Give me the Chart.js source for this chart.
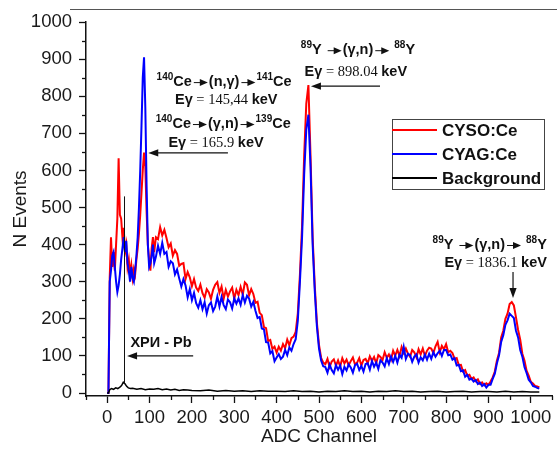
<!DOCTYPE html>
<html>
<head>
<meta charset="utf-8">
<script src="https://cdn.jsdelivr.net/npm/chart.js@4/dist/chart.umd.min.js"></script>
<style>
  html, body { margin: 0; padding: 0; background: #fff; }
  canvas { display: block; }
</style>
</head>
<body>
<canvas id="spectrum" width="557" height="450"></canvas>
<script>
// ============================================================
// DATA
// ============================================================

const channels = [
  0, 3, 6, 9, 12, 15, 18, 21, 24, 27, 30, 33, 36, 39, 42, 45, 48, 51, 54, 57,
  60, 63, 66, 69, 72, 75, 78, 81, 84, 87, 90, 93, 96, 99, 102, 105, 108, 111,
  115, 120, 125, 130, 135, 140, 145, 150, 155, 160,
  165, 170, 175, 180, 185, 190, 195, 200, 205, 210,
  215, 220, 225, 230, 235, 240, 245, 250, 255, 260,
  265, 270, 275, 280, 285, 290, 295, 300, 305, 310,
  315, 320, 325, 330, 335, 340, 345, 350, 355, 360,
  365, 370, 375, 380, 385, 390, 395, 400, 405, 410,
  415, 420, 425, 430, 435, 440, 445, 450, 455, 460,
  465, 470, 475, 480, 485, 490, 495, 500, 505, 510,
  515, 520, 525, 530, 535, 540, 545, 550, 555, 560,
  565, 570, 575, 580, 585, 590, 595, 600, 605, 610,
  615, 620, 625, 630, 635, 640, 645, 650, 655, 660,
  665, 670, 675, 680, 685, 690, 695, 700, 705, 710,
  715, 720, 725, 730, 735, 740, 745, 750, 755, 760,
  765, 770, 775, 780, 785, 790, 795, 800, 805, 810,
  815, 820, 825, 830, 835, 840, 845, 850, 855, 860,
  865, 870, 875, 880, 885, 890, 895, 900, 905, 910,
  915, 920, 925, 930, 935, 940, 945, 950, 955, 960,
  965, 970, 975, 980, 985, 990, 995, 1000, 1005, 1010,
  1015, 1020
];

const cysoCounts = [
  0, 0, 310, 420, 340, 380, 330, 400, 470, 633, 480, 470, 420, 445, 380, 400, 340, 360, 320, 345,
  310, 335, 320, 360, 390, 430, 480, 540, 600, 648, 610, 490, 400, 360, 330, 390, 420, 380,
  420, 415, 447, 425, 440, 418, 393, 403, 370, 385,
  375, 343, 348, 350, 307, 326, 312, 288, 307, 284,
  275, 292, 269, 257, 280, 271, 254, 278, 292, 299,
  270, 287, 254, 278, 260, 274, 284, 254, 278, 264,
  286, 265, 298, 292, 263, 280, 267, 243, 246, 216,
  210, 178, 175, 140, 143, 119, 125, 109, 125, 114,
  132, 121, 144, 129, 148, 152, 165, 215, 320, 450,
  640, 780, 830, 640, 420, 290, 190, 130, 95, 82,
  78, 92, 70, 85, 91, 74, 88, 72, 94, 80,
  90, 75, 86, 96, 77, 82, 94, 74, 89, 92,
  80, 99, 87, 97, 80, 102, 97, 89, 110, 95,
  104, 90, 114, 101, 116, 100, 124, 108, 120, 106,
  98, 116, 110, 96, 118, 104, 120, 100, 114, 122,
  120, 108, 126, 138, 110, 127, 118, 132, 110, 114,
  108, 92, 94, 75, 76, 58, 62, 47, 49, 38,
  42, 32, 37, 25, 29, 21, 26, 22, 31, 42,
  58, 88, 108, 150, 168, 200, 214, 240, 245, 236,
  204, 170, 144, 106, 88, 60, 47, 30, 26, 19,
  18, 15
];

const cyagCounts = [
  0, 0, 300, 330, 370, 380, 340, 300, 272, 290, 320, 360, 390, 420, 380, 410, 350, 330, 300, 340,
  310, 300, 330, 370, 420, 500, 600, 720, 850, 905, 770, 560, 400, 340, 350, 370, 400, 350,
  367, 397, 375, 405, 375, 380, 340, 355, 350, 320,
  333, 309, 287, 307, 290, 258, 280, 250, 270, 242,
  230, 250, 226, 245, 214, 237, 244, 221, 233, 260,
  233, 259, 237, 226, 252, 245, 228, 255, 241, 255,
  238, 264, 244, 262, 254, 233, 246, 222, 202, 205,
  174, 172, 137, 136, 107, 113, 86, 96, 105, 92,
  98, 116, 102, 123, 114, 132, 145, 195, 300, 420,
  590, 710, 750, 610, 400, 275, 180, 120, 88, 72,
  70, 55, 77, 62, 53, 75, 63, 74, 51, 71,
  61, 77, 69, 55, 75, 79, 62, 73, 58, 78,
  80, 63, 86, 71, 82, 65, 88, 82, 72, 94,
  78, 98, 84, 100, 82, 103, 95, 124, 92, 106,
  102, 84, 98, 104, 82, 96, 88, 104, 90, 106,
  92, 110, 98, 107, 114, 100, 116, 116, 102, 104,
  90, 94, 74, 76, 59, 61, 44, 49, 36, 39,
  31, 35, 24, 28, 19, 24, 15, 22, 22, 38,
  52, 80, 102, 138, 156, 184, 196, 214, 208, 202,
  168, 150, 116, 98, 70, 54, 36, 29, 19, 17,
  14, 12
];

const bgChannels = [
  0, 3, 6, 10, 15, 20, 25, 30, 34, 38, 42, 46, 50, 55, 60,
  70, 80, 90, 100, 110, 120, 130, 140, 150, 160, 170, 180, 190, 200,
  220, 240, 260, 280, 300, 320, 340, 360, 380, 400,
  420, 440, 460, 480, 500, 520, 540, 560, 580, 600,
  620, 640, 660, 680, 700, 720, 740, 760, 780, 800,
  820, 840, 860, 880, 900, 920, 940, 960, 980, 1000,
  1020
];

const bgCounts = [
  0, 0, 9, 12, 10, 14, 12, 16, 20, 29, 25, 18, 14, 12, 13,
  10, 12, 9, 11, 10, 12, 9, 11, 8, 10, 7, 9, 8, 7,
  6, 8, 5, 7, 5, 6, 4, 6, 5, 5,
  4, 6, 4, 5, 3, 5, 4, 6, 4, 5,
  3, 5, 4, 6, 4, 5, 3, 4, 5, 3,
  4, 5, 3, 4, 4, 3, 5, 3, 4, 3,
  3
];

const xTicks = [0, 100, 200, 300, 400, 500, 600, 700, 800, 900, 1000];
const yTicks = [0, 100, 200, 300, 400, 500, 600, 700, 800, 900, 1000];
const xMinorTicks = [-50, 50, 150, 250, 350, 450, 550, 650, 750, 850, 950, 1050];
const yMinorTicks = [50, 150, 250, 350, 450, 550, 650, 750, 850, 950];

const seriesLabels = ['CYSO:Ce', 'CYAG:Ce', 'Background'];

// ============================================================
// DRAW HELPERS
// ============================================================

const SANS = '"Liberation Sans", Arial, sans-serif';
const BOLD = 'bold 14.5px ' + SANS;
const SUP = 'bold 10px ' + SANS;
const SERIF = '14.5px "Liberation Serif", "Times New Roman", serif';
const INK = '#111';

function toPairs(xs, ys) { return xs.map((c, i) => ({ x: c, y: ys[i] })); }

function arrow(ctx, x1, y1, x2, y2) {
  const a = Math.atan2(y2 - y1, x2 - x1), L = 10, W = 3.6;
  ctx.beginPath(); ctx.moveTo(x1, y1);
  ctx.lineTo(x2 - Math.cos(a) * (L - 1), y2 - Math.sin(a) * (L - 1)); ctx.stroke();
  ctx.beginPath(); ctx.moveTo(x2, y2);
  ctx.lineTo(x2 - L * Math.cos(a) + W * Math.sin(a), y2 - L * Math.sin(a) - W * Math.cos(a));
  ctx.lineTo(x2 - L * Math.cos(a) - W * Math.sin(a), y2 - L * Math.sin(a) + W * Math.cos(a));
  ctx.closePath(); ctx.fill();
}

function runWidth(ctx, r) {
  if (r.arrow) return r.arrow;
  ctx.font = r.f; return ctx.measureText(r.t).width;
}

// draws a line of mixed runs (text / superscript / inline arrow) centred at cx
function drawRuns(ctx, cx, cy, runs) {
  const total = runs.reduce((s, r) => s + runWidth(ctx, r), 0);
  let x0 = cx - total / 2;
  ctx.textAlign = 'left'; ctx.textBaseline = 'middle';
  runs.forEach(r => {
    const w = runWidth(ctx, r);
    if (r.arrow) {
      ctx.lineWidth = 1;
      ctx.beginPath(); ctx.moveTo(x0 + 2, cy + 0.5); ctx.lineTo(x0 + w - 7, cy + 0.5); ctx.stroke();
      ctx.beginPath(); ctx.moveTo(x0 + w - 1, cy + 0.5);
      ctx.lineTo(x0 + w - 9, cy - 3); ctx.lineTo(x0 + w - 9, cy + 4); ctx.closePath(); ctx.fill();
    } else {
      ctx.font = r.f; ctx.fillText(r.t, x0, cy + (r.dy || 0));
    }
    x0 += w;
  });
}

function reaction(a, elA, mid, b, elB, spaced) {
  const sp = spaced ? [{ t: ' ', f: BOLD }] : [];
  return [
    { t: a, f: SUP, dy: -5 }, { t: elA, f: BOLD }, ...sp, { arrow: 17 },
    { t: mid, f: BOLD }, { arrow: 17 }, ...sp, { t: b, f: SUP, dy: -5 }, { t: elB, f: BOLD }
  ];
}

function energy(val) {
  return [{ t: 'Eγ', f: BOLD }, { t: ' = ' + val + ' ', f: SERIF }, { t: 'keV', f: BOLD }];
}

const decorations = {
  id: 'decorations',
  afterDraw(chart) {
    const { ctx, scales: { x, y } } = chart;
    const px = v => x.getPixelForValue(v), py = v => y.getPixelForValue(v);
    ctx.save();
    ctx.fillStyle = INK; ctx.strokeStyle = INK;

    // minor ticks
    ctx.lineWidth = 1.3;
    xMinorTicks.forEach(v => {
      const X = Math.round(px(v)) + 0.5;
      ctx.beginPath(); ctx.moveTo(X, y.bottom); ctx.lineTo(X, y.bottom + 4); ctx.stroke();
    });
    yMinorTicks.forEach(v => {
      const Y = Math.round(py(v)) + 0.5;
      ctx.beginPath(); ctx.moveTo(x.left, Y); ctx.lineTo(x.left - 4, Y); ctx.stroke();
    });

    // frame line at top of the figure
    ctx.strokeStyle = '#555'; ctx.lineWidth = 1;
    ctx.beginPath(); ctx.moveTo(70, 9.5); ctx.lineTo(557, 9.5); ctx.stroke();
    ctx.strokeStyle = INK;

    // 140Ce annotations
    drawRuns(ctx, px(276), py(838), reaction('140', 'Ce', '(n,γ)', '141', 'Ce', false));
    drawRuns(ctx, px(281), py(790), energy('145,44'));
    drawRuns(ctx, px(274), py(725), reaction('140', 'Ce', '(γ,n)', '139', 'Ce', false));
    drawRuns(ctx, px(257), py(674), energy('165.9'));
    ctx.lineWidth = 1.2;
    arrow(ctx, px(285), py(647), px(97), py(647));

    // 89Y at 898 keV
    drawRuns(ctx, px(592), py(924), reaction('89', 'Y', '(γ,n)', '88', 'Y', true));
    drawRuns(ctx, px(587), py(865), energy('898.04'));
    ctx.lineWidth = 1.2;
    arrow(ctx, px(644), py(827), px(481), py(827));

    // 89Y at 1836 keV
    drawRuns(ctx, px(903), py(399), reaction('89', 'Y', '(γ,n)', '88', 'Y', true));
    drawRuns(ctx, px(917), py(350), energy('1836.1'));
    ctx.lineWidth = 1.2;
    arrow(ctx, px(958), py(326), px(958), py(256));

    // X-ray of lead
    ctx.lineWidth = 1;
    ctx.beginPath(); ctx.moveTo(Math.round(px(40)) + 0.5, py(25)); ctx.lineTo(Math.round(px(40)) + 0.5, py(530)); ctx.stroke();
    drawRuns(ctx, px(127), py(135), [{ t: 'ХРИ - Pb', f: BOLD }]);
    ctx.lineWidth = 1.2;
    arrow(ctx, px(203), py(100), px(47), py(100));

    // legend
    const bx = 392, by = 119, bw = 152, bh = 70;
    ctx.fillStyle = '#fff'; ctx.fillRect(bx, by, bw, bh);
    ctx.strokeStyle = '#444'; ctx.lineWidth = 1;
    ctx.strokeRect(bx + 0.5, by + 0.5, bw, bh);
    ctx.font = 'bold 17px ' + SANS; ctx.textAlign = 'left'; ctx.textBaseline = 'middle';
    seriesLabels.forEach((lbl, i) => {
      const ds = chart.data.datasets.find(d => d.label === lbl);
      const ly = by + 11 + i * 24;
      ctx.strokeStyle = ds.borderColor; ctx.lineWidth = 2;
      ctx.beginPath(); ctx.moveTo(bx, ly); ctx.lineTo(bx + 45, ly); ctx.stroke();
      ctx.fillStyle = INK; ctx.fillText(lbl, bx + 50, ly + 1);
    });
    ctx.restore();
  }
};

// ============================================================
// CHART
// ============================================================

const tickFont = { family: SANS, size: 18.5 };
const titleFont = { family: SANS, size: 19 };

new Chart(document.getElementById('spectrum'), {
  type: 'line',
  data: {
    datasets: [
      { label: 'CYSO:Ce', data: toPairs(channels, cysoCounts), borderColor: '#ff0000', borderWidth: 2, order: 2 },
      { label: 'CYAG:Ce', data: toPairs(channels, cyagCounts), borderColor: '#0000ff', borderWidth: 2, order: 1 },
      { label: 'Background', data: toPairs(bgChannels, bgCounts), borderColor: '#000000', borderWidth: 1.5, order: 0 }
    ]
  },
  options: {
    responsive: false,
    animation: false,
    layout: { padding: { top: 22, right: 5, left: 0, bottom: 0 } },
    elements: { point: { radius: 0 }, line: { tension: 0 } },
    plugins: { legend: { display: false }, tooltip: { enabled: false } },
    scales: {
      x: {
        type: 'linear', min: -50, max: 1050,
        afterBuildTicks: s => { s.ticks = xTicks.map(v => ({ value: v })); },
        afterFit: s => { s.height = 54; },
        grid: { drawOnChartArea: false, tickLength: 7, tickColor: INK, tickWidth: 1.3 },
        border: { color: INK, width: 1.5 },
        ticks: { font: tickFont, color: '#1a1a1a', padding: 4, maxRotation: 0, autoSkip: false, callback: v => String(v) },
        title: { display: true, text: 'ADC Channel', font: titleFont, color: '#1a1a1a', padding: { top: 0, bottom: 2 } }
      },
      y: {
        min: -8, max: 1000,
        afterBuildTicks: s => { s.ticks = yTicks.map(v => ({ value: v })); },
        afterFit: s => { s.width = 86; },
        grid: { drawOnChartArea: false, tickLength: 7, tickColor: INK, tickWidth: 1.3 },
        border: { color: INK, width: 1.5 },
        ticks: { font: tickFont, color: '#1a1a1a', padding: 7, callback: v => String(v) },
        title: { display: true, text: 'N Events', font: titleFont, color: '#1a1a1a', padding: { top: 9, bottom: 0 } }
      }
    }
  },
  plugins: [decorations]
});
</script>
</body>
</html>
